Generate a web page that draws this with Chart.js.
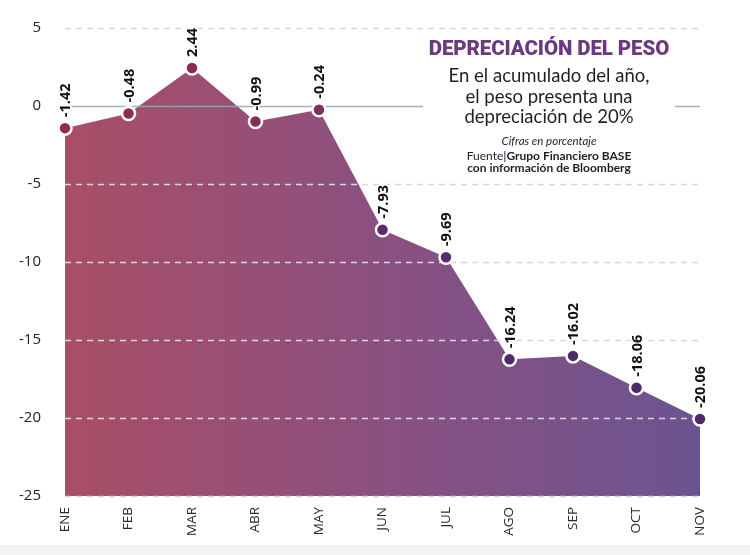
<!doctype html>
<html lang="es">
<head>
<meta charset="utf-8">
<title>Depreciación del peso</title>
<script src="https://cdn.jsdelivr.net/npm/chart.js@4.4.0/dist/chart.umd.min.js"></script>
<style>
  html, body { margin: 0; padding: 0; }
  body {
    width: 750px; height: 555px; position: relative; overflow: hidden;
    background: linear-gradient(#fff 0, #fff 545px, #f3f3f3 545px);
    font-family: Lato, "Open Sans", sans-serif;
  }
  #wrap { position: absolute; left: 0; top: 0; width: 750px; height: 555px; }
  #info {
    position: absolute; left: 423px; top: 36px; width: 252px; height: 142px;
    background: #fff; text-align: center; color: #231f20;
  }
  #info div { position: absolute; left: -20px; width: 292px; white-space: nowrap; }
  .titulo { top: 0; font: 900 20.5px/24px Roboto, sans-serif; color: #6b3a7e; letter-spacing: -0.1px; }
  .sub { top: 29px; font: 400 18.5px/20.5px Lato, sans-serif; }
  .cifras { top: 98px; font: italic 400 11.5px/14px Lato, sans-serif; }
  .fuente { top: 113px; font: 400 12px/13px Lato, sans-serif; }
  .fuente b { font-weight: 700; }
  .fuente i { font-style: normal; font-weight: 700; color: #6b3a7e; }
  .bloom { top: 125px; font: 700 12px/13px Lato, sans-serif; }
</style>
</head>
<body>
<div id="wrap"><canvas id="grafica" width="750" height="555"></canvas></div>
<div id="info">
  <div class="titulo">DEPRECIACIÓN DEL PESO</div>
  <div class="sub">En el acumulado del año,<br>el peso presenta una<br>depreciación de 20%</div>
  <div class="cifras">Cifras en porcentaje</div>
  <div class="fuente">Fuente<i>|</i><b>Grupo Financiero BASE</b></div>
  <div class="bloom">con información de Bloomberg</div>
</div>

<script>
// datos
var meses = ['ENE', 'FEB', 'MAR', 'ABR', 'MAY', 'JUN', 'JUL', 'AGO', 'SEP', 'OCT', 'NOV'];
var depreciacion = [-1.42, -0.48, 2.44, -0.99, -0.24, -7.93, -9.69, -16.24, -16.02, -18.06, -20.06];
var ticksY = [5, 0, -5, -10, -15, -20, -25];

// colores de los puntos (rojo vino -> morado)
var coloresPunto = ['#8e2b50', '#8d2b51', '#8c2b52', '#862e58', '#7f305e',
                    '#5c2c71', '#5a2c71', '#512a6c', '#4f2a6b', '#4f2a6b', '#4d2a6a'];

function degradado(ctx) {
  var area = ctx.chart.chartArea;
  if (!area) return 'rgba(0,0,0,0)';
  var g = ctx.chart.ctx.createLinearGradient(area.left, 0, area.right, 0);
  g.addColorStop(0, '#a94e66');
  g.addColorStop(0.5, '#8b5080');
  g.addColorStop(1, '#6c5490');
  return g;
}

// rejilla encima del relleno, debajo de los puntos
var rejilla = {
  id: 'rejilla',
  afterDatasetDraw: function(chart, args) {
    if (args.index !== 0) return;
    var c = chart.ctx, a = chart.chartArea, y = chart.scales.y;
    c.save();
    y.ticks.forEach(function(t) {
      var py = Math.round(y.getPixelForValue(t.value)) + 0.5;
      c.beginPath();
      if (t.value === 0) {
        c.setLineDash([]);
        c.strokeStyle = 'rgba(150,168,178,0.9)';
        c.lineWidth = 1.5;
      } else {
        c.setLineDash([6, 5]);
        c.strokeStyle = '#d5d9dd';
        c.lineWidth = 1.5;
      }
      c.moveTo(a.left, py);
      c.lineTo(a.right, py);
      c.stroke();
    });
    c.restore();
  }
};

// etiquetas de valor giradas
var etiquetas = {
  id: 'etiquetas',
  afterDatasetsDraw: function(chart) {
    var c = chart.ctx;
    var meta = chart.getDatasetMeta(1);
    c.save();
    c.font = '700 14.5px "Open Sans"';
    c.fillStyle = '#111';
    c.strokeStyle = '#fff';
    c.lineWidth = 3;
    c.lineJoin = 'round';
    c.textAlign = 'left';
    c.textBaseline = 'middle';
    meta.data.forEach(function(p, i) {
      var txt = depreciacion[i].toFixed(2);
      c.save();
      c.translate(p.x + 1, p.y - 11);
      c.rotate(-Math.PI / 2);
      c.strokeText(txt, 0, 0);
      c.fillText(txt, 0, 0);
      c.restore();
    });
    c.restore();
  }
};

var ctx = document.getElementById('grafica');
var chart = new Chart(ctx, {
  type: 'line',
  data: {
    labels: meses,
    datasets: [
      {
        data: depreciacion,
        fill: 'start',
        backgroundColor: degradado,
        borderWidth: 0,
        borderColor: 'rgba(0,0,0,0)',
        pointRadius: 0,
        tension: 0,
        order: 2
      },
      {
        data: depreciacion,
        fill: false,
        showLine: false,
        pointRadius: 6.5,
        pointBorderWidth: 2.5,
        pointBorderColor: '#fff',
        pointBackgroundColor: coloresPunto,
        order: 1
      }
    ]
  },
  options: {
    responsive: false,
    animation: false,
    layout: { padding: { top: 28, right: 50, left: 0, bottom: 0 } },
    plugins: { legend: { display: false }, tooltip: { enabled: false } },
    scales: {
      x: {
        offset: false,
        grid: { display: false },
        border: { display: false },
        afterFit: function(s) { s.height = 59; },
        ticks: {
          minRotation: 90, maxRotation: 90, padding: 3,
          color: '#2a2a2a',
          font: { family: '"Open Sans"', size: 13.5 }
        }
      },
      y: {
        min: Math.min.apply(null, ticksY),
        max: Math.max.apply(null, ticksY),
        grid: { display: false },
        border: { display: false },
        afterFit: function(s) { s.width = 65; },
        afterBuildTicks: function(s) {
          s.ticks = ticksY.map(function(v) { return { value: v }; });
        },
        ticks: {
          padding: 16,
          color: '#222',
          font: { family: '"Open Sans"', size: 15 }
        }
      }
    }
  },
  plugins: [rejilla, etiquetas]
});
</script>
</body>
</html>
